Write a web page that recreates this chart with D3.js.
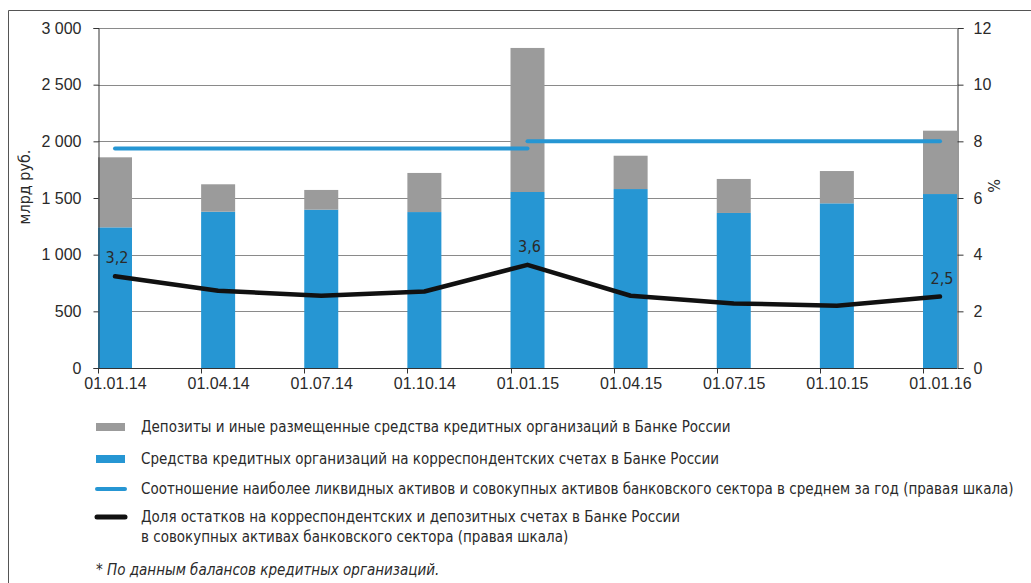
<!DOCTYPE html>
<html>
<head>
<meta charset="utf-8">
<script src="https://cdn.jsdelivr.net/npm/d3@7"></script>
<style>
  body { margin: 0; background: #fff; }
  svg { display: block; font-family: "Liberation Sans Narrow", "DejaVu Sans Condensed", "Roboto", sans-serif; }
</style>
</head>
<body>
<div id="art"></div>
<script>
// data
const dates = ["01.01.14", "01.04.14", "01.07.14", "01.10.14", "01.01.15", "01.04.15", "01.07.15", "01.10.15", "01.01.16"];
const corrAccounts = [1241, 1379, 1397, 1376, 1553, 1579, 1368, 1453, 1535];   // blue
const deposits = [618, 242, 174, 345, 1271, 294, 300, 285, 559];               // gray
const shareLine = [3.24, 2.73, 2.55, 2.7, 3.64, 2.55, 2.28, 2.2, 2.52];         // black, right axis
const shareLabels = ["3,2", null, null, null, "3,6", null, null, null, "2,5"];
const liquidSegments = [
  { from: "01.01.14", to: "01.01.15", value: 7.75 },
  { from: "01.01.15", to: "01.01.16", value: 8.0 }
];
const leftTicks = [0, 500, 1000, 1500, 2000, 2500, 3000];
const rightTicks = [0, 2, 4, 6, 8, 10, 12];

const legendItems = [
  { type: "rect", color: "#9b9b9b", text: ["Депозиты и иные размещенные средства кредитных организаций в Банке России"] },
  { type: "rect", color: "#2696d3", text: ["Средства кредитных организаций на корреспондентских счетах в Банке России"] },
  { type: "line", color: "#2696d3", width: 4, text: ["Соотношение наиболее ликвидных активов и совокупных активов банковского сектора в среднем за год (правая шкала)"] },
  { type: "line", color: "#111", width: 5, text: ["Доля остатков на корреспондентских и депозитных счетах в Банке России", "в совокупных активах банковского сектора (правая шкала)"] }
];
const footnote = "* По данным балансов кредитных организаций.";

const config = {
  width: 1031, height: 583,
  left: 98, right: 957, top: 28, bottom: 368,
  barWidth: 34,
  text: "#2a2a2a", grid: "#8a8a8a"
};

function art() {
  const c = config;
  const svg = d3.select("#art").append("svg")
    .attr("width", c.width).attr("height", c.height);

  // frame
  svg.append("path")
    .attr("d", `M8.5,${c.height} V10.5 H${c.width}`)
    .attr("fill", "none").attr("stroke", "#555").attr("stroke-width", 1);

  const x = d3.scalePoint().domain(dates).range([c.left + c.barWidth / 2, c.right - c.barWidth / 2]);
  const y = d3.scaleLinear().domain([0, 3000]).range([c.bottom, c.top]);
  const y2 = d3.scaleLinear().domain([0, 12]).range([c.bottom, c.top]);

  // grid
  svg.append("g").selectAll("line")
    .data(leftTicks.filter(d => d > 0))
    .join("line")
    .attr("x1", c.left).attr("x2", c.right)
    .attr("y1", d => Math.round(y(d)) + 0.5).attr("y2", d => Math.round(y(d)) + 0.5)
    .attr("stroke", c.grid).attr("stroke-width", 1);

  // bars
  const bars = svg.append("g");
  bars.selectAll("rect.blue")
    .data(dates)
    .join("rect")
    .attr("class", "blue")
    .attr("x", d => x(d) - c.barWidth / 2)
    .attr("width", c.barWidth)
    .attr("y", (d, i) => y(corrAccounts[i]))
    .attr("height", (d, i) => y(0) - y(corrAccounts[i]))
    .attr("fill", "#2696d3");
  bars.selectAll("rect.gray")
    .data(dates)
    .join("rect")
    .attr("class", "gray")
    .attr("x", d => x(d) - c.barWidth / 2)
    .attr("width", c.barWidth)
    .attr("y", (d, i) => y(corrAccounts[i] + deposits[i]))
    .attr("height", (d, i) => y(corrAccounts[i]) - y(corrAccounts[i] + deposits[i]))
    .attr("fill", "#9b9b9b");

  // axes
  const leftAxis = svg.append("g")
    .attr("transform", `translate(${c.left + 0.5},0)`)
    .call(d3.axisLeft(y).tickValues(leftTicks).tickSize(5).tickPadding(12)
      .tickFormat(d => d3.format(",")(d).replace(",", " ")));
  const rightAxis = svg.append("g")
    .attr("transform", `translate(${c.right + 0.5},0)`)
    .call(d3.axisRight(y2).tickValues(rightTicks).tickSize(6).tickPadding(10));
  const bottomAxis = svg.append("g")
    .attr("transform", `translate(0,${c.bottom + 0.5})`)
    .call(d3.axisBottom(x).tickSize(0).tickPadding(9));
  // tick marks at bar starts
  bottomAxis.selectAll("line.bt")
    .data(dates)
    .join("line")
    .attr("class", "bt")
    .attr("x1", d => Math.round(x(d) - c.barWidth / 2) + 0.5)
    .attr("x2", d => Math.round(x(d) - c.barWidth / 2) + 0.5)
    .attr("y1", 0).attr("y2", 5)
    .attr("stroke", "#333");
  bottomAxis.select(".domain").attr("d", `M${c.left},0H${c.right}`);

  [leftAxis, rightAxis, bottomAxis].forEach(g => {
    g.select(".domain").attr("stroke", "#333");
    g.selectAll(".tick line").attr("stroke", "#333");
    g.selectAll("text").attr("fill", c.text).style("font-size", "16px");
  });

  // blue average lines
  svg.append("g").selectAll("line")
    .data(liquidSegments)
    .join("line")
    .attr("x1", d => x(d.from)).attr("x2", d => x(d.to))
    .attr("y1", d => y2(d.value)).attr("y2", d => y2(d.value))
    .attr("stroke", "#2696d3").attr("stroke-width", 4).attr("stroke-linecap", "round");

  // black share line
  const line = d3.line().x(d => x(d[0])).y(d => y2(d[1]));
  svg.append("path")
    .datum(dates.map((d, i) => [d, shareLine[i]]))
    .attr("d", line)
    .attr("fill", "none").attr("stroke", "#111").attr("stroke-width", 4.5)
    .attr("stroke-linecap", "round").attr("stroke-linejoin", "round");

  svg.append("g").selectAll("text")
    .data(dates.map((d, i) => ({ d, v: shareLine[i], label: shareLabels[i] })).filter(o => o.label))
    .join("text")
    .attr("x", o => x(o.d) + 2)
    .attr("y", o => y2(o.v) - 13)
    .attr("text-anchor", "middle")
    .attr("fill", c.text).style("font-size", "16px")
    .text(o => o.label);

  // axis titles
  svg.append("text")
    .attr("transform", "translate(30,187) rotate(-90)")
    .attr("text-anchor", "middle")
    .attr("fill", c.text).style("font-size", "16px")
    .text("млрд руб.");
  svg.append("text")
    .attr("transform", "translate(1000,186) rotate(-90)")
    .attr("text-anchor", "middle")
    .attr("fill", c.text).style("font-size", "16px")
    .text("%");

  // legend
  const rowY = [427, 459, 489, 517];
  const legend = svg.append("g");
  legendItems.forEach((item, i) => {
    const g = legend.append("g").attr("transform", `translate(0,${rowY[i]})`);
    if (item.type === "rect") {
      g.append("rect").attr("x", 96).attr("y", -4).attr("width", 29).attr("height", 8).attr("fill", item.color);
    } else {
      g.append("line").attr("x1", 97).attr("x2", 125).attr("y1", 0).attr("y2", 0)
        .attr("stroke", item.color).attr("stroke-width", item.width).attr("stroke-linecap", "round");
    }
    item.text.forEach((t, j) => {
      g.append("text")
        .attr("x", 141).attr("y", j * 20)
        .attr("dy", "0.35em")
        .attr("fill", c.text).style("font-size", "15px")
        .text(t);
    });
  });

  svg.append("text")
    .attr("x", 96).attr("y", 570).attr("dy", "0.35em")
    .attr("fill", c.text).style("font-size", "15px").style("font-style", "italic")
    .text(footnote);
}

window.onload = function () {
  art();
};
</script>
</body>
</html>
